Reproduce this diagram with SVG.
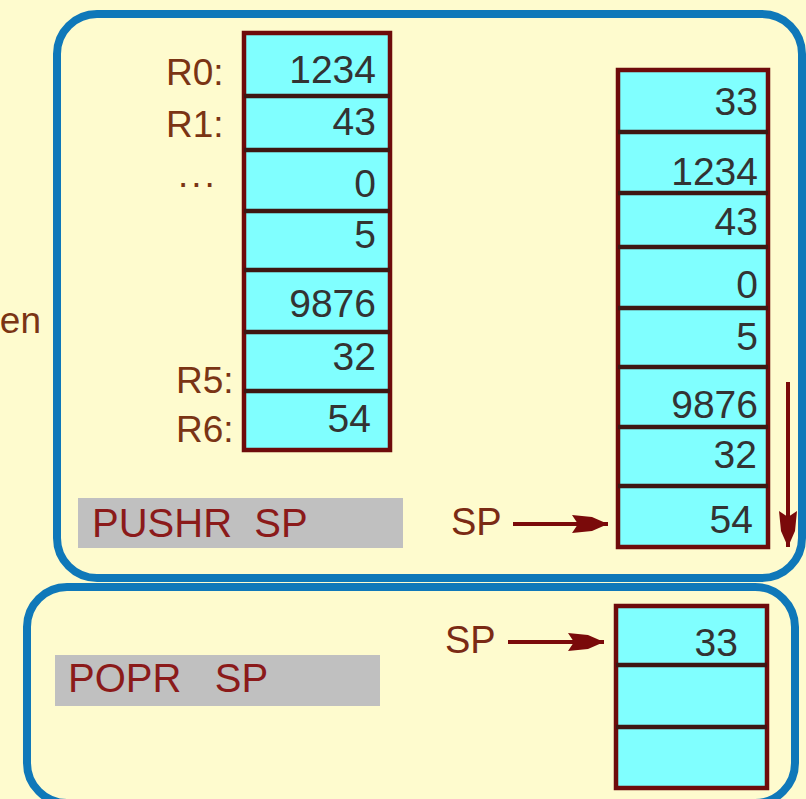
<svg xmlns="http://www.w3.org/2000/svg" width="806" height="799" viewBox="0 0 806 799">
  <style>
    .panel { fill: none; stroke: #0f78b9; stroke-width: 8; }
    .cell { fill: #80ffff; stroke: #6e0b0b; stroke-width: 4.5; }
    .div { stroke: #3e1712; stroke-width: 4.5; }
    .num { font-family: "Liberation Sans", Arial, sans-serif; font-size: 39px; fill: #333333; text-anchor: end; }
    .reg { font-family: "Liberation Sans", Arial, sans-serif; font-size: 37px; fill: #7a3414; }
    .cmd { font-family: "Liberation Sans", Arial, sans-serif; font-size: 40px; fill: #8b1a1a; }
    .sp { font-family: "Liberation Sans", Arial, sans-serif; font-size: 38px; fill: #7a2a14; }
    .box { fill: #c0c0c0; }
    .arrow { stroke: #7a0a0a; stroke-width: 4; fill: none; }
  </style>
  <defs>
    <marker id="stealth" markerUnits="userSpaceOnUse" viewBox="0 -10 36 20" refX="36" refY="0" markerWidth="36" markerHeight="20" orient="auto">
      <path d="M0,-9 L20,-7 L36,0 L20,7 L0,9 L6,0 Z" fill="#7a0a0a"/>
    </marker>
  </defs>

  <!-- background -->
  <rect x="0" y="0" width="806" height="799" fill="#fefbce"/>

  <!-- heading fragment at the left edge -->
  <text id="side-label" class="reg" x="41" y="333" text-anchor="end" font-size="36" fill="#85391a">en</text>

  <!-- upper panel: PUSHR -->
  <g id="panel-push">
    <rect class="panel" x="57" y="14" width="745" height="564" rx="40"/>
  </g>

  <!-- lower panel: POPR -->
  <g id="panel-pop">
    <rect class="panel" x="27" y="587" width="768" height="216" rx="40"/>
  </g>

  <!-- register file R0..R6 -->
  <g id="registers">
    <rect class="cell" x="244" y="33" width="146" height="417"/>
    <line class="div" x1="244" y1="96" x2="390" y2="96"/>
    <line class="div" x1="244" y1="150" x2="390" y2="150"/>
    <line class="div" x1="244" y1="211" x2="390" y2="211"/>
    <line class="div" x1="244" y1="270" x2="390" y2="270"/>
    <line class="div" x1="244" y1="332" x2="390" y2="332"/>
    <line class="div" x1="244" y1="391" x2="390" y2="391"/>
    <text class="num" x="376" y="83">1234</text>
    <text class="num" x="376" y="135">43</text>
    <text class="num" x="376" y="197">0</text>
    <text class="num" x="376" y="248">5</text>
    <text class="num" x="376" y="317">9876</text>
    <text class="num" x="376" y="370">32</text>
    <text class="num" x="371" y="432">54</text>
  </g>

  <!-- register names -->
  <g id="register-names">
    <text class="reg" x="166" y="85">R0:</text>
    <text class="reg" x="166" y="137">R1:</text>
    <text class="reg" x="178" y="187" font-size="22" letter-spacing="3" fill="#8a6a55">...</text>
    <text class="reg" x="176" y="393">R5:</text>
    <text class="reg" x="176" y="442">R6:</text>
  </g>

  <!-- instruction PUSHR SP -->
  <g id="instr-push">
    <rect class="box" x="78" y="498" width="325" height="50"/>
    <text class="cmd" x="92" y="537" xml:space="preserve">PUSHR  SP</text>
  </g>

  <!-- stack after PUSHR -->
  <g id="stack-push">
    <rect class="cell" x="618" y="70" width="150" height="477"/>
    <line class="div" x1="618" y1="132" x2="768" y2="132"/>
    <line class="div" x1="618" y1="193" x2="768" y2="193"/>
    <line class="div" x1="618" y1="247" x2="768" y2="247"/>
    <line class="div" x1="618" y1="308" x2="768" y2="308"/>
    <line class="div" x1="618" y1="367" x2="768" y2="367"/>
    <line class="div" x1="618" y1="427" x2="768" y2="427"/>
    <line class="div" x1="618" y1="486" x2="768" y2="486"/>
    <text class="num" x="758" y="115">33</text>
    <text class="num" x="758" y="185">1234</text>
    <text class="num" x="758" y="235">43</text>
    <text class="num" x="758" y="298">0</text>
    <text class="num" x="758" y="350">5</text>
    <text class="num" x="758" y="418">9876</text>
    <text class="num" x="757" y="468">32</text>
    <text class="num" x="753" y="533">54</text>
  </g>

  <!-- instruction POPR SP -->
  <g id="instr-pop">
    <rect class="box" x="55" y="655" width="325" height="51"/>
    <text class="cmd" x="68" y="692" xml:space="preserve">POPR   SP</text>
  </g>

  <!-- stack after POPR -->
  <g id="stack-pop">
    <rect class="cell" x="616" y="606" width="151" height="182"/>
    <line class="div" x1="616" y1="665" x2="767" y2="665"/>
    <line class="div" x1="616" y1="727" x2="767" y2="727"/>
    <text class="num" x="738" y="656">33</text>
  </g>

  <!-- stack pointer labels -->
  <g id="sp-labels">
    <text class="sp" x="451" y="535">SP</text>
    <text class="sp" x="445" y="653">SP</text>
  </g>

  <!-- connectors -->
  <g id="connectors">
    <line class="arrow" x1="513" y1="524" x2="608" y2="524" marker-end="url(#stealth)"/>
    <line class="arrow" x1="788" y1="382" x2="788" y2="547" marker-end="url(#stealth)"/>
    <line class="arrow" x1="508" y1="642" x2="604" y2="642" marker-end="url(#stealth)"/>
  </g>
</svg>
